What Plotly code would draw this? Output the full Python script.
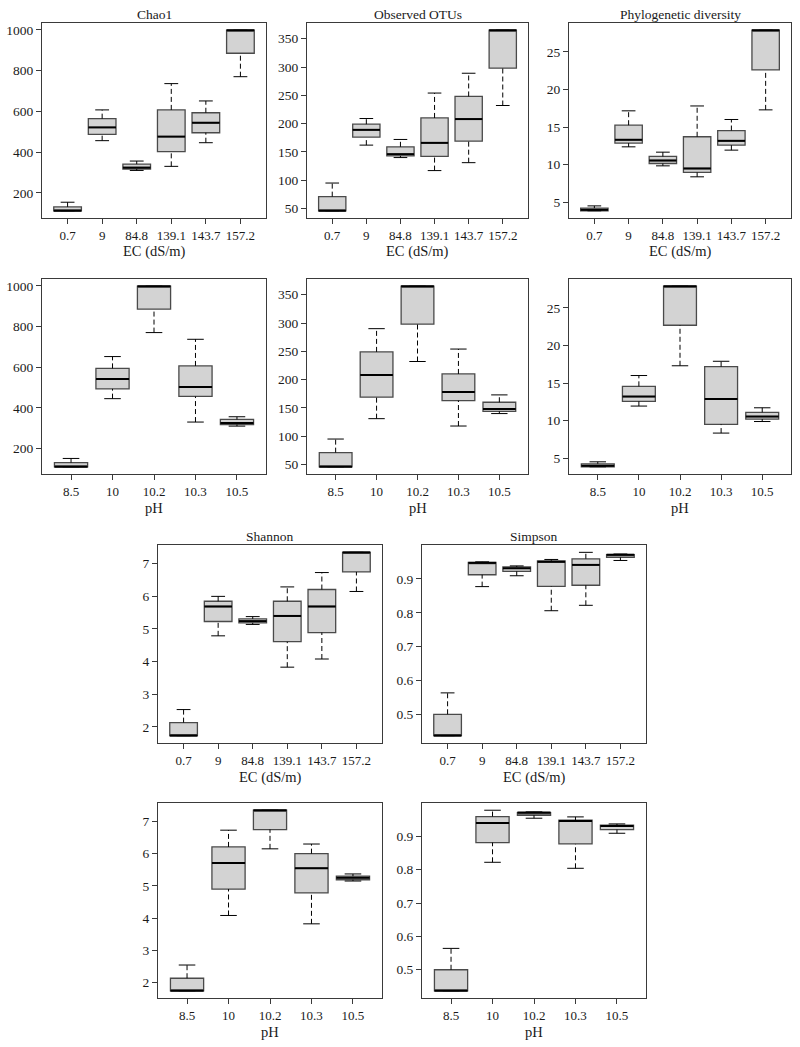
import plotly.graph_objects as go

ec_labels = ["0.7", "9", "84.8", "139.1", "143.7", "157.2"]
ph_labels = ["8.5", "10", "10.2", "10.3", "10.5"]

# ---- Chao1 vs EC ----
chao1_ec_lower = [112, 456, 310, 330, 446, 770]
chao1_ec_q1 = [112, 487, 317, 402, 495, 885]
chao1_ec_median = [112, 521, 324, 476, 544, 998]
chao1_ec_q3 = [131, 564, 341, 607, 593, 998]
chao1_ec_upper = [154, 607, 356, 736, 651, 998]

# ---- Observed OTUs vs EC ----
otus_ec_lower = [46, 162, 140, 117, 131, 232]
otus_ec_q1 = [46, 176, 143, 142, 169, 298]
otus_ec_median = [46, 189, 146, 166, 208, 365]
otus_ec_q3 = [71, 199, 159, 210, 248, 365]
otus_ec_upper = [95, 209, 172, 254, 289, 365]

# ---- Phylogenetic diversity vs EC ----
pd_ec_lower = [3.85, 12.36, 9.83, 8.37, 11.92, 17.28]
pd_ec_q1 = [3.85, 12.85, 10.14, 8.95, 12.58, 22.6]
pd_ec_median = [3.98, 13.3, 10.54, 9.48, 13.16, 27.88]
pd_ec_q3 = [4.2, 15.24, 11.08, 13.7, 14.53, 27.88]
pd_ec_upper = [4.5, 17.15, 11.65, 17.8, 16.0, 27.88]

# ---- Chao1 vs pH ----
chao1_ph_lower = [110, 445, 770, 330, 310]
chao1_ph_q1 = [110, 493, 885, 456, 318]
chao1_ph_median = [110, 542, 998, 502, 325]
chao1_ph_q3 = [130, 594, 998, 606, 343]
chao1_ph_upper = [151, 652, 998, 737, 356]

# ---- Observed OTUs vs pH ----
otus_ph_lower = [46, 131, 232, 118, 140]
otus_ph_q1 = [46, 169, 298, 163, 144]
otus_ph_median = [46, 208, 365, 178, 148]
otus_ph_q3 = [71, 249, 365, 210, 160]
otus_ph_upper = [95, 290, 365, 254, 173]

# ---- Phylogenetic diversity vs pH ----
pd_ph_lower = [3.84, 11.93, 17.3, 8.33, 9.87]
pd_ph_q1 = [3.84, 12.56, 22.7, 9.5, 10.2]
pd_ph_median = [3.98, 13.2, 27.9, 12.87, 10.53]
pd_ph_q3 = [4.24, 14.56, 27.9, 17.18, 11.1]
pd_ph_upper = [4.5, 16.0, 27.9, 17.9, 11.7]

# ---- Shannon vs EC ----
shannon_ec_lower = [1.73, 4.79, 5.14, 3.83, 4.08, 6.15]
shannon_ec_q1 = [1.73, 5.23, 5.19, 4.61, 4.89, 6.75]
shannon_ec_median = [1.73, 5.69, 5.24, 5.40, 5.69, 7.35]
shannon_ec_q3 = [2.13, 5.85, 5.31, 5.85, 6.21, 7.35]
shannon_ec_upper = [2.53, 6.0, 5.38, 6.29, 6.73, 7.35]

# ---- Simpson vs EC ----
simpson_ec_lower = [0.438, 0.877, 0.909, 0.806, 0.822, 0.954]
simpson_ec_q1 = [0.438, 0.912, 0.922, 0.878, 0.881, 0.963]
simpson_ec_median = [0.438, 0.947, 0.931, 0.950, 0.941, 0.971]
simpson_ec_q3 = [0.501, 0.948, 0.935, 0.953, 0.959, 0.971]
simpson_ec_upper = [0.564, 0.950, 0.938, 0.957, 0.978, 0.973]

# ---- Shannon vs pH ----
shannon_ph_lower = [1.74, 4.08, 6.15, 3.82, 5.15]
shannon_ph_q1 = [1.74, 4.90, 6.75, 4.78, 5.19]
shannon_ph_median = [1.74, 5.71, 7.35, 5.55, 5.25]
shannon_ph_q3 = [2.13, 6.21, 7.35, 6.0, 5.30]
shannon_ph_upper = [2.54, 6.73, 7.35, 6.30, 5.37]

# ---- Simpson vs pH ----
simpson_ph_lower = [0.437, 0.822, 0.954, 0.804, 0.909]
simpson_ph_q1 = [0.437, 0.881, 0.963, 0.877, 0.920]
simpson_ph_median = [0.437, 0.940, 0.971, 0.946, 0.931]
simpson_ph_q3 = [0.5, 0.959, 0.971, 0.948, 0.933]
simpson_ph_upper = [0.564, 0.978, 0.973, 0.958, 0.937]

W, H = 800, 1047
FONT = "Liberation Serif"
BOX_FILL = "#d3d3d3"
BOX_LINE = "#4a4a4a"
FRAME = "#3a3a3a"
TXT = "#1a1a1a"

panels = [
    # (labels, lower, q1, median, q3, upper, dtick, title, xtitle, left, right, top, bottom)
    (ec_labels, chao1_ec_lower, chao1_ec_q1, chao1_ec_median, chao1_ec_q3, chao1_ec_upper, 200, "Chao1", "EC (dS/m)", 42, 266, 23, 218),
    (ec_labels, otus_ec_lower, otus_ec_q1, otus_ec_median, otus_ec_q3, otus_ec_upper, 50, "Observed OTUs", "EC (dS/m)", 307, 528, 23, 218),
    (ec_labels, pd_ec_lower, pd_ec_q1, pd_ec_median, pd_ec_q3, pd_ec_upper, 5, "Phylogenetic diversity", "EC (dS/m)", 569, 791, 23, 218),
    (ph_labels, chao1_ph_lower, chao1_ph_q1, chao1_ph_median, chao1_ph_q3, chao1_ph_upper, 200, "", "pH", 42, 266, 279, 474),
    (ph_labels, otus_ph_lower, otus_ph_q1, otus_ph_median, otus_ph_q3, otus_ph_upper, 50, "", "pH", 307, 528, 279, 474),
    (ph_labels, pd_ph_lower, pd_ph_q1, pd_ph_median, pd_ph_q3, pd_ph_upper, 5, "", "pH", 569, 791, 279, 474),
    (ec_labels, shannon_ec_lower, shannon_ec_q1, shannon_ec_median, shannon_ec_q3, shannon_ec_upper, 1, "Shannon", "EC (dS/m)", 158, 382, 545, 743),
    (ec_labels, simpson_ec_lower, simpson_ec_q1, simpson_ec_median, simpson_ec_q3, simpson_ec_upper, 0.1, "Simpson", "EC (dS/m)", 422, 646, 545, 743),
    (ph_labels, shannon_ph_lower, shannon_ph_q1, shannon_ph_median, shannon_ph_q3, shannon_ph_upper, 1, "", "pH", 158, 382, 803, 998),
    (ph_labels, simpson_ph_lower, simpson_ph_q1, simpson_ph_median, simpson_ph_q3, simpson_ph_upper, 0.1, "", "pH", 422, 646, 803, 998),
]

fig = go.Figure()
annotations = []
BOXW = 0.8
CAPW = 0.4

for i, (labels, lo, q1, med, q3, up, dtick, title, xtitle, L, R, T, B) in enumerate(panels):
    n = len(labels)
    pos = list(range(n))
    xa = "x" if i == 0 else f"x{i+1}"
    ya = "y" if i == 0 else f"y{i+1}"
    xkey = "xaxis" if i == 0 else f"xaxis{i+1}"
    ykey = "yaxis" if i == 0 else f"yaxis{i+1}"

    # whiskers (dashed)
    wx, wy = [], []
    for p, a, b, c, d in zip(pos, lo, q1, q3, up):
        wx += [p, p, None, p, p, None]
        wy += [c, d, None, a, b, None]
    fig.add_trace(go.Scatter(x=wx, y=wy, mode="lines", xaxis=xa, yaxis=ya,
                             line=dict(color="black", width=1, dash="5px,3px"),
                             showlegend=False, hoverinfo="skip"))
    # caps
    cx, cy = [], []
    for p, a, d in zip(pos, lo, up):
        cx += [p - CAPW / 2, p + CAPW / 2, None, p - CAPW / 2, p + CAPW / 2, None]
        cy += [d, d, None, a, a, None]
    fig.add_trace(go.Scatter(x=cx, y=cy, mode="lines", xaxis=xa, yaxis=ya,
                             line=dict(color="black", width=1),
                             showlegend=False, hoverinfo="skip"))
    # boxes
    fig.add_trace(go.Box(x=pos, q1=q1, median=med, q3=q3, lowerfence=q1, upperfence=q3,
                         width=BOXW, xaxis=xa, yaxis=ya, fillcolor=BOX_FILL,
                         line=dict(color=BOX_LINE, width=1.3), whiskerwidth=0,
                         boxpoints=False, showlegend=False, hoverinfo="skip"))
    # medians (thick)
    mx, my = [], []
    for p, m in zip(pos, med):
        mx += [p - BOXW / 2, p + BOXW / 2, None]
        my += [m, m, None]
    fig.add_trace(go.Scatter(x=mx, y=my, mode="lines", xaxis=xa, yaxis=ya,
                             line=dict(color="black", width=2),
                             showlegend=False, hoverinfo="skip"))

    ymin, ymax = min(lo), max(up)
    pad = (ymax - ymin) * 0.04
    xpad = n * 0.04
    fig.layout[xkey] = dict(
        domain=[L / W, R / W], anchor=ya, range=[-0.5 - xpad, n - 0.5 + xpad],
        tickmode="array", tickvals=pos, ticktext=labels,
        showline=True, mirror=True, linecolor=FRAME, linewidth=1,
        ticks="outside", ticklen=5, tickcolor=FRAME, showgrid=False, zeroline=False,
        tickfont=dict(family=FONT, size=13, color=TXT), fixedrange=True,
    )
    fig.layout[ykey] = dict(
        domain=[1 - B / H, 1 - T / H], anchor=xa, range=[ymin - pad, ymax + pad],
        dtick=dtick, tick0=0, showline=True, mirror=True, linecolor=FRAME, linewidth=1,
        ticks="outside", ticklen=5, tickcolor=FRAME, showgrid=False, zeroline=False,
        tickfont=dict(family=FONT, size=13.5, color=TXT), fixedrange=True,
    )
    cxp = (L + R) / 2 / W
    if title:
        annotations.append(dict(text=title, x=cxp, y=1 - (T - 9) / H, xref="paper", yref="paper",
                                showarrow=False, xanchor="center", yanchor="middle",
                                font=dict(family=FONT, size=13.5, color=TXT)))
    annotations.append(dict(text=xtitle, x=cxp, y=1 - (B + 34) / H, xref="paper", yref="paper",
                            showarrow=False, xanchor="center", yanchor="middle",
                            font=dict(family=FONT, size=14.5, color=TXT)))

fig.update_layout(width=W, height=H, margin=dict(l=0, r=0, t=0, b=0),
                  paper_bgcolor="white", plot_bgcolor="white", annotations=annotations,
                  showlegend=False)

fig.write_html("out.html", config={"displayModeBar": False, "staticPlot": True},
               post_script="document.body.style.margin='0';document.body.style.overflow='hidden';")
